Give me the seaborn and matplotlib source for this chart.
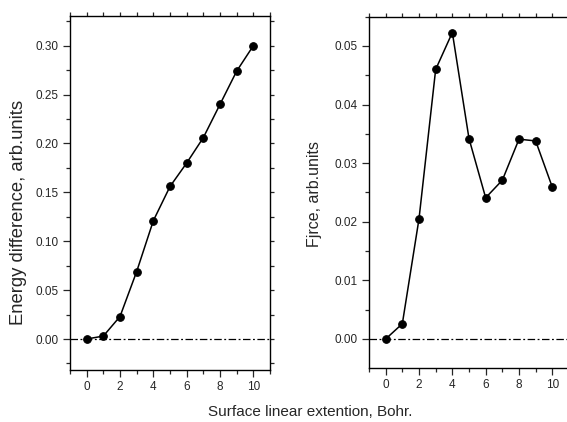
import numpy as np
import pandas as pd
import matplotlib
matplotlib.use("Agg")
import matplotlib.pyplot as plt
from matplotlib.ticker import MultipleLocator, FormatStrFormatter
import seaborn as sns

x_vals = [0, 1, 2, 3, 4, 5, 6, 7, 8, 9, 10]
energy = [0.000, 0.003, 0.023, 0.069, 0.121, 0.156, 0.180, 0.206, 0.240, 0.274, 0.300]
force = [0.0000, 0.0026, 0.0205, 0.0460, 0.0523, 0.0342, 0.0241, 0.0271, 0.0341, 0.0338, 0.0259]
x_ticks = [0, 2, 4, 6, 8, 10]
energy_ticks = [0.00, 0.05, 0.10, 0.15, 0.20, 0.25, 0.30]
force_ticks = [0.00, 0.01, 0.02, 0.03, 0.04, 0.05]

sns.set_style("ticks")
plt.rcParams['font.family'] = ['Liberation Sans', 'DejaVu Sans']
plt.rcParams['xtick.direction'] = 'out'
plt.rcParams['ytick.direction'] = 'out'

W, H = 567, 422
fig = plt.figure(figsize=(W / 100, H / 100), dpi=100)
ax1 = fig.add_axes([70 / W, 52 / H, 200 / W, 354 / H])
ax2 = fig.add_axes([369 / W, 54 / H, 200 / W, 351.3 / H])

df1 = pd.DataFrame({"x": x_vals, "y": energy})
df2 = pd.DataFrame({"x": x_vals, "y": force})

for ax, df, ticks, ylim, minor in [
    (ax1, df1, energy_ticks, (-0.0317, 0.3304), 0.025),
    (ax2, df2, force_ticks, (-0.00495, 0.0550), 0.005),
]:
    ax.axhline(0, color='black', lw=0.9, linestyle=(0, (6, 2, 1.5, 2)), zorder=1)
    sns.lineplot(data=df, x="x", y="y", ax=ax, color='black', lw=1.1,
                 marker='o', markersize=5.5, markeredgecolor='black',
                 markerfacecolor='black', zorder=3)
    ax.set_xlim(-1, 11)
    ax.set_ylim(*ylim)
    ax.set_xticks(x_ticks)
    ax.xaxis.set_minor_locator(MultipleLocator(1))
    ax.set_yticks(ticks)
    ax.yaxis.set_minor_locator(MultipleLocator(minor))
    ax.yaxis.set_major_formatter(FormatStrFormatter('%.2f'))
    ax.tick_params(which='major', length=5, width=0.9, labelsize=8.5, pad=3)
    ax.tick_params(which='minor', length=3, width=0.9)
    ax.set_xlabel("")
    ax.set_ylabel("")
    for s in ax.spines.values():
        s.set_linewidth(1.0)
        s.set_color('black')
    sx = ax.secondary_xaxis('top')
    sx.set_xticks(list(range(-1, 12)))
    sx.tick_params(which='major', length=3, width=0.9, labeltop=False)
    sx.spines['top'].set_visible(False)

ax1_r = ax1.secondary_yaxis('right')
ax1_r.set_yticks([i * 0.025 for i in range(-1, 14)])
ax1_r.tick_params(which='major', length=3, width=0.9, labelright=False)
ax1_r.spines['right'].set_visible(False)

ax2.spines['right'].set_visible(False)

fig.text(19 / W, 1 - 212.5 / H, "Energy difference, arb.units", rotation=90,
         ha='center', va='center', fontsize=13.3)
fig.text(315 / W, 1 - 194 / H, "Fjrce, arb.units", rotation=90,
         ha='center', va='center', fontsize=11.5)
fig.text(310 / W, 1 - 412 / H, "Surface linear extention, Bohr.",
         ha='center', va='center', fontsize=11)

fig.savefig("out.png", dpi=100)
